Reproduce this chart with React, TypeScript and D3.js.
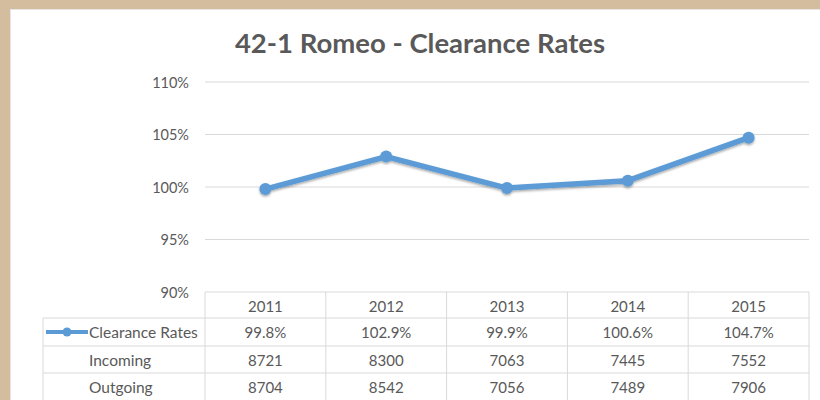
import React from "react";
import * as d3 from "d3";

const years = ["2011", "2012", "2013", "2014", "2015"];
const clearance = [99.8, 102.9, 99.9, 100.6, 104.7];
const incoming = [8721, 8300, 7063, 7445, 7552];
const outgoing = [8704, 8542, 7056, 7489, 7906];
const yTicks = [90, 95, 100, 105, 110];
const title = "42-1 Romeo - Clearance Rates";
const rowLabels = ["Clearance Rates", "Incoming", "Outgoing"];

const W = 820;
const H = 400;
const font = "Lato, 'Open Sans', sans-serif";
const textColor = "#595959";
const gridColor = "#D9D9D9";
const lineColor = "#5B9BD5";

export default function App() {
  const plotLeft = 205;
  const plotRight = 809;
  const x = d3.scaleBand<string>().domain(years).range([plotLeft, plotRight]).padding(0);
  const y = d3.scaleLinear().domain([90, 110]).range([292, 82]);
  const line = d3
    .line<number>()
    .x((_, i) => (x(years[i]) as number) + x.bandwidth() / 2)
    .y((d) => y(d));

  const rowTops = [292, 318, 346, 373, 401];
  const tableLeft = 43;
  const rows: (string[])[] = [
    clearance.map((v) => v.toFixed(1) + "%"),
    incoming.map(String),
    outgoing.map(String),
  ];

  return (
    <svg
      width={W}
      height={H}
      style={{ position: "absolute", left: 0, top: 0 }}
      fontFamily={font}
    >
      <defs>
        <filter id="sh" x="-20%" y="-20%" width="140%" height="160%">
          <feDropShadow dx="0" dy="1.5" stdDeviation="1.2" floodColor="#000" floodOpacity="0.35" />
        </filter>
      </defs>
      <rect x={0} y={0} width={W} height={H} fill="#D4BC9E" />
      <rect x={10} y={9} width={W - 10} height={H - 9} fill="#E6E6E6" />
      <rect x={11} y={10} width={W - 11} height={H - 10} fill="#FFFFFF" />

      <text
        x={420}
        y={53}
        textAnchor="middle"
        fontSize={27.5}
        fontWeight="bold"
        fill={textColor}
      >
        {title}
      </text>

      {yTicks.map((t) => (
        <g key={t}>
          {t !== 90 && (
            <line x1={plotLeft} x2={plotRight} y1={y(t)} y2={y(t)} stroke={gridColor} strokeWidth={1} />
          )}
          <text
            x={189}
            y={y(t)}
            textAnchor="end"
            dominantBaseline="central"
            fontSize={14.5}
            fill={textColor}
          >
            {t + "%"}
          </text>
        </g>
      ))}

      {/* table */}
      <g stroke={gridColor} strokeWidth={1} fill="none">
        <line x1={plotLeft} x2={plotRight} y1={rowTops[0]} y2={rowTops[0]} />
        {rowTops.slice(1).map((r) => (
          <line key={r} x1={tableLeft} x2={plotRight} y1={r} y2={r} />
        ))}
        <line x1={tableLeft} x2={tableLeft} y1={rowTops[1]} y2={rowTops[4]} />
        {years.map((yr) => (
          <line
            key={yr}
            x1={x(yr) as number}
            x2={x(yr) as number}
            y1={rowTops[0]}
            y2={rowTops[4]}
          />
        ))}
        <line x1={plotRight} x2={plotRight} y1={rowTops[0]} y2={rowTops[4]} />
      </g>

      {years.map((yr) => (
        <text
          key={yr}
          x={(x(yr) as number) + x.bandwidth() / 2}
          y={(rowTops[0] + rowTops[1]) / 2 + 1}
          textAnchor="middle"
          dominantBaseline="central"
          fontSize={15}
          fill={textColor}
        >
          {yr}
        </text>
      ))}

      {rows.map((vals, ri) => (
        <g key={ri}>
          <text
            x={89}
            y={(rowTops[ri + 1] + rowTops[ri + 2]) / 2}
            dominantBaseline="central"
            fontSize={15.5}
            fill={textColor}
          >
            {rowLabels[ri]}
          </text>
          {vals.map((v, i) => (
            <text
              key={i}
              x={(x(years[i]) as number) + x.bandwidth() / 2}
              y={(rowTops[ri + 1] + rowTops[ri + 2]) / 2}
              textAnchor="middle"
              dominantBaseline="central"
              fontSize={15}
              fill={textColor}
            >
              {v}
            </text>
          ))}
        </g>
      ))}

      {/* legend key */}
      <line x1={46} x2={88} y1={332} y2={332} stroke={lineColor} strokeWidth={4} />
      <circle cx={67} cy={332} r={4.5} fill={lineColor} />

      {/* series */}
      <g filter="url(#sh)">
        <path d={line(clearance) || ""} fill="none" stroke={lineColor} strokeWidth={5.5} strokeLinejoin="round" />
        {clearance.map((v, i) => (
          <circle
            key={i}
            cx={(x(years[i]) as number) + x.bandwidth() / 2}
            cy={y(v)}
            r={6}
            fill={lineColor}
          />
        ))}
      </g>
    </svg>
  );
}
